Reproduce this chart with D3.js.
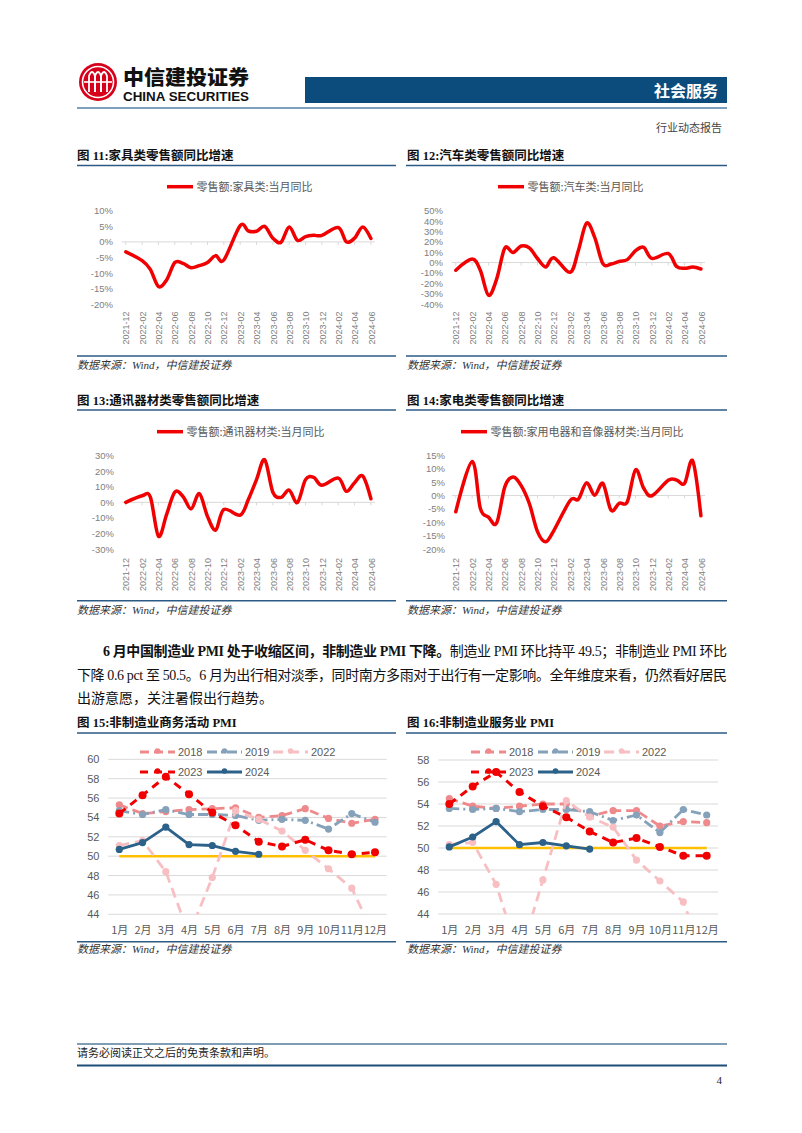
<!DOCTYPE html>
<html><head><meta charset="utf-8">
<script src="https://cdn.jsdelivr.net/npm/d3@7"></script>
<style>
body{margin:0;background:#fff}
svg{display:block}
</style></head>
<body>
<svg id="c" width="802" height="1133"></svg>
<script>
// ---------- DATA ----------
const retailMonths = ["2021-12","2022-01","2022-02","2022-03","2022-04","2022-05","2022-06","2022-07","2022-08","2022-09","2022-10","2022-11","2022-12",
  "2023-01","2023-02","2023-03","2023-04","2023-05","2023-06","2023-07","2023-08","2023-09","2023-10","2023-11","2023-12",
  "2024-01","2024-02","2024-03","2024-04","2024-05","2024-06"];
const retailTickLabels = ["2021-12","2022-02","2022-04","2022-06","2022-08","2022-10","2022-12","2023-02","2023-04","2023-06","2023-08","2023-10","2023-12","2024-02","2024-04","2024-06"];
// January is reported together with February, so January is empty
const furniture = [-3.2,null,-6.0,-8.8,-14.3,-12.2,-6.6,-6.9,-8.3,-7.6,-6.6,-4.4,-5.8,null,5.2,3.5,3.4,5.0,1.2,-0.1,4.8,0.5,1.7,2.1,2.1,null,4.6,0.0,1.2,4.8,1.1];
const autos = [-7.4,null,3.3,-7.5,-31.6,-16.0,13.9,9.7,15.9,14.2,3.9,-4.2,4.6,null,-9.4,11.5,38.0,24.2,-1.1,-1.5,1.1,2.8,11.4,14.7,4.0,null,8.7,-3.7,-5.6,-4.4,-6.2];
const telecom = [0.0,null,4.2,3.5,-21.8,-7.7,6.6,3.8,-4.2,5.6,-9.0,-17.8,-4.6,null,-8.2,1.8,14.6,27.4,6.5,3.2,7.9,-0.1,14.6,16.1,11.0,null,15.6,7.1,12.6,16.9,2.3];
const appliances = [-6.1,null,12.7,-4.8,-8.1,-10.3,3.2,6.9,3.7,-3.0,-13.5,-17.3,-13.1,null,-1.9,-1.4,4.7,0.1,4.5,-5.5,-2.9,-2.3,9.6,2.7,-0.1,null,5.7,5.8,4.5,12.9,-7.6];

const pmiMonths = ["1月","2月","3月","4月","5月","6月","7月","8月","9月","10月","11月","12月"];
const pmiYears = ["2018","2019","2022","2023","2024"];
const nonMfg2018 = [55.3,54.4,54.6,54.8,54.9,55.0,54.0,54.2,54.9,53.9,53.4,53.8];
const nonMfg2019 = [54.7,54.3,54.8,54.3,54.3,54.2,53.7,53.8,53.7,52.8,54.4,53.5];
const nonMfg2022 = [51.1,51.6,48.4,41.9,47.8,54.7,53.8,52.6,50.6,48.7,46.7,41.6];
const nonMfg2023 = [54.4,56.3,58.2,56.4,54.5,53.2,51.5,51.0,51.7,50.6,50.2,50.4];
const nonMfg2024 = [50.7,51.4,53.0,51.2,51.1,50.5,50.2];
const svc2018 = [54.5,53.8,53.6,53.8,54.0,54.0,52.9,53.4,53.4,52.0,52.4,52.3];
const svc2019 = [53.6,53.5,53.6,53.3,53.5,53.5,53.3,52.5,53.0,51.4,53.5,53.0];
const svc2022 = [50.3,50.5,46.7,40.0,47.1,54.3,52.8,51.9,48.9,47.0,45.1,39.4];
const svc2023 = [54.0,55.6,56.9,55.1,53.8,52.8,51.5,50.5,50.9,50.1,49.3,49.3];
const svc2024 = [50.1,51.0,52.4,50.3,50.5,50.2,49.9];
const threshold = 50;

// ---------- STYLE ----------
const CJK = "'Noto Sans CJK SC','Liberation Sans',sans-serif";
const SANS = "'Liberation Sans',Arial,'Noto Sans CJK SC',sans-serif";
const SERIF = "'Liberation Serif','Times New Roman','Noto Sans CJK SC',serif";
const NAVY = "#2B5A84";
const RED = "#F00000";

const svg = d3.select("#c");
svg.append("rect").attr("width",802).attr("height",1133).attr("fill","#fff");

// ---------- HEADER ----------
const logo = svg.append("g");
logo.append("circle").attr("cx",98).attr("cy",82).attr("r",19).attr("fill","#D7001A");
logo.append("circle").attr("cx",98).attr("cy",82).attr("r",15.5).attr("fill","none").attr("stroke","#fff").attr("stroke-width",1.6);
[[-9,-3],[-3,3],[3,9]].forEach(([a,b])=>{
  logo.append("path")
    .attr("d",`M${98+a},${92} L${98+a},${76} Q${98+(a+b)/2},${68} ${98+b},${76} L${98+b},${92}`)
    .attr("fill","none").attr("stroke","#fff").attr("stroke-width",1.8);
});
logo.append("line").attr("x1",84).attr("x2",112).attr("y1",82).attr("y2",82).attr("stroke","#fff").attr("stroke-width",1.6);
svg.append("text").attr("x",123).attr("y",85).attr("font-family",CJK).attr("font-weight",900)
  .attr("font-size",20).attr("textLength",126).attr("lengthAdjust","spacingAndGlyphs").attr("fill","#111").text("中信建投证券");
svg.append("text").attr("x",123).attr("y",101).attr("font-family",SANS).attr("font-weight",700)
  .attr("font-size",12).attr("textLength",126).attr("lengthAdjust","spacingAndGlyphs").attr("fill","#111").text("CHINA SECURITIES");
svg.append("rect").attr("x",305).attr("y",77).attr("width",422).attr("height",26).attr("fill","#0C4C7D");
svg.append("text").attr("x",718).attr("y",97).attr("text-anchor","end").attr("font-family",CJK).attr("font-weight",700)
  .attr("font-size",16).attr("fill","#fff").text("社会服务");
svg.append("line").attr("x1",77).attr("x2",727).attr("y1",108).attr("y2",108).attr("stroke","#4F7FA6").attr("stroke-width",1.5);
svg.append("text").attr("x",722).attr("y",132).attr("text-anchor","end").attr("font-family",SERIF)
  .attr("font-size",11).attr("fill","#444").text("行业动态报告");

// ---------- helpers ----------
function figTitle(x, y, num, txt, tail){
  const t = svg.append("text").attr("x",x).attr("y",y).attr("font-family",SERIF).attr("font-weight",700)
    .attr("font-size",12.5).attr("fill","#111");
  t.append("tspan").text("图 "+num+":");
  t.append("tspan").attr("font-family",CJK).text(txt);
  if(tail) t.append("tspan").text(tail);
}
function hline(x1,x2,y,w,c){
  svg.append("line").attr("x1",x1).attr("x2",x2).attr("y1",y).attr("y2",y).attr("stroke",c||NAVY).attr("stroke-width",w||1.5);
}
function source(x,y){
  svg.append("text").attr("x",x).attr("y",y).attr("font-family",SERIF).attr("font-style","italic")
    .attr("font-size",11).attr("fill","#333").text("数据来源：Wind，中信建投证券");
}

function retailChart(cfg){
  const g = svg.append("g");
  const x = d3.scalePoint().domain(retailMonths).range([cfg.x0,cfg.x1]).padding(0.5);
  const y = d3.scaleLinear().domain(cfg.domain).range([cfg.yBot,cfg.yTop]);
  g.append("line").attr("x1",cfg.x0).attr("x2",cfg.x1).attr("y1",y(0)).attr("y2",y(0))
    .attr("stroke","#D9D9D9").attr("stroke-width",1);
  retailTickLabels.forEach(m=>{
    g.append("line").attr("x1",x(m)).attr("x2",x(m)).attr("y1",y(0)).attr("y2",y(0)+3).attr("stroke","#D9D9D9");
  });
  const yAxis = d3.axisLeft(y).tickValues(d3.range(cfg.domain[0],cfg.domain[1]+0.001,cfg.step))
    .tickFormat(d=>d+"%").tickSize(0).tickPadding(0);
  const ya = g.append("g").attr("transform",`translate(${cfg.yLabelX},0)`).call(yAxis);
  ya.select(".domain").remove();
  ya.selectAll("text").attr("font-family",SANS).attr("font-size",9.5).attr("fill","#808080");
  const xAxis = d3.axisBottom(x).tickValues(retailTickLabels).tickSize(0).tickPadding(0);
  const xa = g.append("g").attr("transform",`translate(0,${cfg.labelTop})`).call(xAxis);
  xa.select(".domain").remove();
  xa.selectAll("text").attr("font-family",SANS).attr("font-size",9).attr("fill","#808080")
    .attr("text-anchor","end").attr("transform","rotate(-90)").attr("x",0).attr("y",0).attr("dy","0.35em");
  const pts = retailMonths.map((m,i)=>({m, v:cfg.data[i]})).filter(d=>d.v!==null);
  const line = d3.line().x(d=>x(d.m)).y(d=>y(d.v)).curve(d3.curveCatmullRom.alpha(0));
  g.append("path").datum(pts).attr("d",line).attr("fill","none").attr("stroke",RED)
    .attr("stroke-width",3.5).attr("stroke-linejoin","round").attr("stroke-linecap","round");
  g.append("line").attr("x1",cfg.lx).attr("x2",cfg.lx+26).attr("y1",cfg.ly).attr("y2",cfg.ly)
    .attr("stroke",RED).attr("stroke-width",3.5);
  g.append("text").attr("x",cfg.lx+29.5).attr("y",cfg.ly).attr("dy","0.36em").attr("font-family",CJK)
    .attr("font-size",11).attr("fill","#595959").text(cfg.legend);
}

// ---------- ROW 1 ----------
figTitle(77,160,"11","家具类零售额同比增速");
figTitle(407,160,"12","汽车类零售额同比增速");
hline(77,396,165.5); hline(406,727,165.5);
retailChart({x0:121.7,x1:375,domain:[-20,10],step:5,yBot:304.3,yTop:210.7,yLabelX:113,labelTop:311.5,
  data:furniture,legend:"零售额:家具类:当月同比",lx:167,ly:186.7});
retailChart({x0:451.7,x1:705,domain:[-40,50],step:10,yBot:304,yTop:210.7,yLabelX:443,labelTop:311.5,
  data:autos,legend:"零售额:汽车类:当月同比",lx:498,ly:186.7});
hline(77,396,356); hline(406,727,356);
source(77,369); source(407,369);

// ---------- ROW 2 ----------
figTitle(77,405,"13","通讯器材类零售额同比增速");
figTitle(407,405,"14","家电类零售额同比增速");
hline(77,396,410); hline(406,727,410);
retailChart({x0:121.7,x1:375,domain:[-30,30],step:10,yBot:549,yTop:455.7,yLabelX:114,labelTop:558,
  data:telecom,legend:"零售额:通讯器材类:当月同比",lx:157,ly:431.7});
retailChart({x0:451.7,x1:705,domain:[-20,15],step:5,yBot:549,yTop:455.3,yLabelX:445,labelTop:558,
  data:appliances,legend:"零售额:家用电器和音像器材类:当月同比",lx:461,ly:431.7});
hline(77,396,600.7); hline(406,727,600.7);
source(77,614); source(407,614);

// ---------- PARAGRAPH ----------
const p1 = svg.append("text").attr("x",103).attr("y",656).attr("font-family",SERIF).attr("font-size",14)
  .attr("fill","#111").attr("textLength",624).attr("lengthAdjust","spacing");
p1.append("tspan").attr("font-weight",700).text("6 月中国制造业 PMI 处于收缩区间，非制造业 PMI 下降。");
p1.append("tspan").text("制造业 PMI 环比持平 49.5；非制造业 PMI 环比");
svg.append("text").attr("x",77).attr("y",680).attr("font-family",SERIF).attr("font-size",14)
  .attr("fill","#111").attr("textLength",650).attr("lengthAdjust","spacing")
  .text("下降 0.6 pct 至 50.5。6 月为出行相对淡季，同时南方多雨对于出行有一定影响。全年维度来看，仍然看好居民");
svg.append("text").attr("x",77).attr("y",703).attr("font-family",SERIF).attr("font-size",14)
  .attr("fill","#111").text("出游意愿，关注暑假出行趋势。");

// ---------- PMI charts ----------
const seriesStyle = {
  "2018":{color:"#EF8A8C",dash:"9,5",w:2.8,r:3.6},
  "2019":{color:"#86A2BA",dash:"10,4,2,4",w:2.8,r:3.6},
  "2022":{color:"#F8BFC2",dash:"10,6",w:2.8,r:3.6},
  "2023":{color:RED,dash:"8,6",w:3,r:4},
  "2024":{color:"#2C6189",dash:null,w:2.8,r:3.6}
};
function pmiChart(cfg){
  const g = svg.append("g");
  const x = d3.scalePoint().domain(pmiMonths).range([cfg.x0,cfg.x1]);
  const y = d3.scaleLinear().domain(cfg.domain).range([cfg.yBot,cfg.yTop]);
  const ticks = d3.range(cfg.domain[0],cfg.domain[1]+0.001,2);
  g.selectAll(".grid").data(ticks).enter().append("line")
    .attr("x1",cfg.gx0).attr("x2",cfg.gx1).attr("y1",d=>y(d)).attr("y2",d=>y(d))
    .attr("stroke","#D9D9D9").attr("stroke-width",1);
  const ya = g.append("g").attr("transform",`translate(${cfg.yLabelX},0)`)
    .call(d3.axisLeft(y).tickValues(ticks).tickSize(0).tickPadding(0));
  ya.select(".domain").remove();
  ya.selectAll("text").attr("font-family",SANS).attr("font-size",11).attr("fill","#595959");
  const xa = g.append("g").attr("transform",`translate(0,${cfg.xLabelY})`)
    .call(d3.axisBottom(x).tickSize(0).tickPadding(0));
  xa.select(".domain").remove();
  xa.selectAll("text").attr("font-family",CJK).attr("font-size",11).attr("fill","#595959").attr("dy","0.35em");
  g.append("line").attr("x1",x(pmiMonths[0])).attr("x2",x(pmiMonths[11])).attr("y1",y(threshold)).attr("y2",y(threshold))
    .attr("stroke","#FFC000").attr("stroke-width",2.6);
  const clipId = "clip"+cfg.id;
  svg.append("clipPath").attr("id",clipId).append("rect")
    .attr("x",cfg.gx0-10).attr("y",cfg.yTop-30).attr("width",cfg.gx1-cfg.gx0+20).attr("height",y(cfg.domain[0])-cfg.yTop+30);
  const pg = g.append("g").attr("clip-path",`url(#${clipId})`);
  const line = d3.line().x((d,i)=>x(pmiMonths[i])).y(d=>y(d));
  pmiYears.forEach((yr,k)=>{
    const st = seriesStyle[yr], data = cfg.series[k];
    pg.append("path").datum(data).attr("d",line).attr("fill","none").attr("stroke",st.color)
      .attr("stroke-width",st.w).attr("stroke-dasharray",st.dash).attr("stroke-linejoin","round");
    pg.selectAll(null).data(data).enter().append("circle")
      .attr("cx",(d,i)=>x(pmiMonths[i])).attr("cy",d=>y(d)).attr("r",st.r).attr("fill",st.color);
  });
  const pos = [[0,0],[67,0],[133,0],[0,20],[67,20]];
  pmiYears.forEach((yr,k)=>{
    const st = seriesStyle[yr];
    const lx = cfg.lx + pos[k][0], ly = cfg.ly + pos[k][1];
    g.append("line").attr("x1",lx).attr("x2",lx+35).attr("y1",ly).attr("y2",ly).attr("stroke",st.color)
      .attr("stroke-width",st.w).attr("stroke-dasharray",st.dash);
    g.append("circle").attr("cx",lx+17.5).attr("cy",ly-1).attr("r",2.8).attr("fill",st.color);
    g.append("text").attr("x",lx+38).attr("y",ly).attr("dy","0.36em").attr("font-family",SANS)
      .attr("font-size",11).attr("fill","#595959").text(yr);
  });
}

figTitle(77,727,"15","非制造业商务活动"," PMI");
figTitle(407,727,"16","非制造业服务业"," PMI");
hline(77,396,733); hline(406,727,733);
pmiChart({id:15,x0:119.3,x1:375,gx0:108.3,gx1:386.7,domain:[44,60],yBot:914.3,yTop:759.3,yLabelX:99.5,xLabelY:930,
  series:[nonMfg2018,nonMfg2019,nonMfg2022,nonMfg2023,nonMfg2024],lx:140,ly:752});
pmiChart({id:16,x0:449.3,x1:706.7,gx0:438.3,gx1:718.3,domain:[44,58],yBot:914,yTop:760,yLabelX:429.5,xLabelY:930,
  series:[svc2018,svc2019,svc2022,svc2023,svc2024],lx:471,ly:752});
hline(77,396,941.7); hline(406,727,941.7);
source(77,953); source(407,953);

// ---------- FOOTER ----------
hline(77,727,1044,2,"#7F9DB5");
svg.append("text").attr("x",77).attr("y",1057).attr("font-family",SERIF).attr("font-size",11).attr("fill","#222")
  .text("请务必阅读正文之后的免责条款和声明。");
hline(77,727,1065.5,2.2,"#1F4E79");
svg.append("text").attr("x",722).attr("y",1084).attr("text-anchor","end").attr("font-family",SERIF).attr("font-size",11).attr("fill","#222").text("4");
</script>
</body></html>
